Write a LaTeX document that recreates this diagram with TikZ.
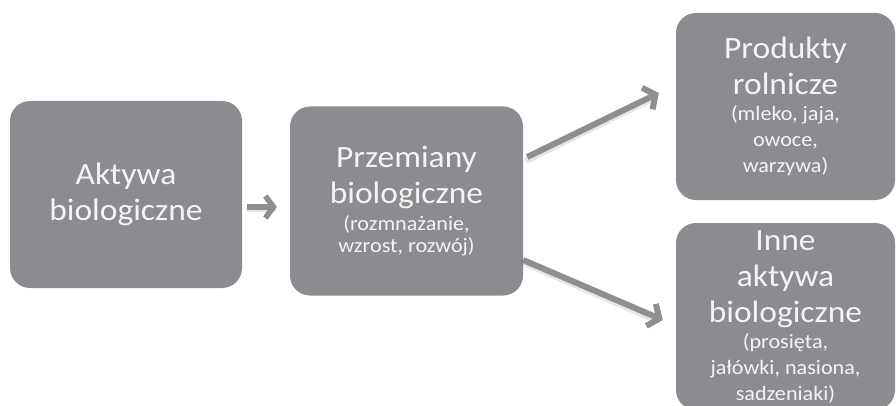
\documentclass[tikz,border=0pt]{standalone}
\usepackage{fontspec}
\setmainfont{Carlito}[FakeStretch=1.08]
\usetikzlibrary{arrows.meta,calc}
\definecolor{boxgray}{HTML}{8B8C8F}
\definecolor{arrgray}{HTML}{8F8F90}
\definecolor{txtwhite}{HTML}{F4F4F4}
\newcommand{\bigf}{\fontsize{31}{36}\selectfont}
\newcommand{\smallA}{\fontsize{20.5}{22}\selectfont}
\newcommand{\smallB}{\fontsize{20.5}{26}\selectfont}
\begin{document}
\begin{tikzpicture}[x=1pt,y=-1pt,
  box/.style={fill=boxgray, rounded corners=20pt, inner sep=0pt,
    text=txtwhite, align=flush center, font=\bigf\frenchspacing},
  arr/.style={draw=arrgray, line width=6pt,
    -{Straight Barb[length=9pt,width=24pt]}},
  arrsmall/.style={draw=arrgray, line width=5.5pt,
    -{Straight Barb[length=8pt,width=22pt]}},
  shad/.style={draw=black, opacity=0.10, line width=7pt, line cap=round}]
\useasboundingbox (0,0) rectangle (896,406);
\fill[white] (0,0) rectangle (896,406);
\clip (0,0) rectangle (896,406);

\node[box, minimum width=232pt, minimum height=187pt, text width=226pt] (b1) at (126,194.5)
  {\bigf Aktywa\\biologiczne\par};
\node[box, minimum width=233pt, minimum height=189pt, text width=227pt] (b2) at (406.5,201)
  {\bigf Przemiany\\biologiczne\par\vspace{5pt}\smallA (rozmnażanie,\\wzrost, rozwój)\par};
\node[box, minimum width=219pt, minimum height=187pt, text width=213pt] (b3) at (785.5,106.5)
  {\bigf Produkty\\rolnicze\par\smallB (mleko, jaja,\\owoce,\\warzywa)\par};
\node[box, minimum width=219pt, minimum height=187pt, text width=213pt] (b4) at (785.5,316.5)
  {\bigf Inne\\aktywa\\biologiczne\par\smallB (prosięta,\\jałówki, nasiona,\\sadzeniaki)\par};

\coordinate (a1s) at ($(b1.east)+(5,12.5)$);
\coordinate (a1e) at ($(b2.west)+(-13,6)$);
\coordinate (a2s) at ($(b2.east)+(4,-44)$);
\coordinate (a2e) at ($(b3.west)+(-17,-13.5)$);
\coordinate (a3s) at ($(b2.east)+(0,59)$);
\coordinate (a3e) at ($(b4.west)+(-13,3.5)$);

\draw[shad, line width=5pt] ($(a1s)+(1,2)$) -- ($(a1e)+(-3,2)$);
\draw[shad] ($(a2s)+(1,2.5)$) -- ($(a2e)+(-6,5)$);
\draw[shad] ($(a3s)+(1,2.5)$) -- ($(a3e)+(-6,0)$);

\draw[arrsmall] (a1s) -- (a1e);
\draw[arr] (a2s) -- (a2e);
\draw[arr] (a3s) -- (a3e);
\end{tikzpicture}
\end{document}
